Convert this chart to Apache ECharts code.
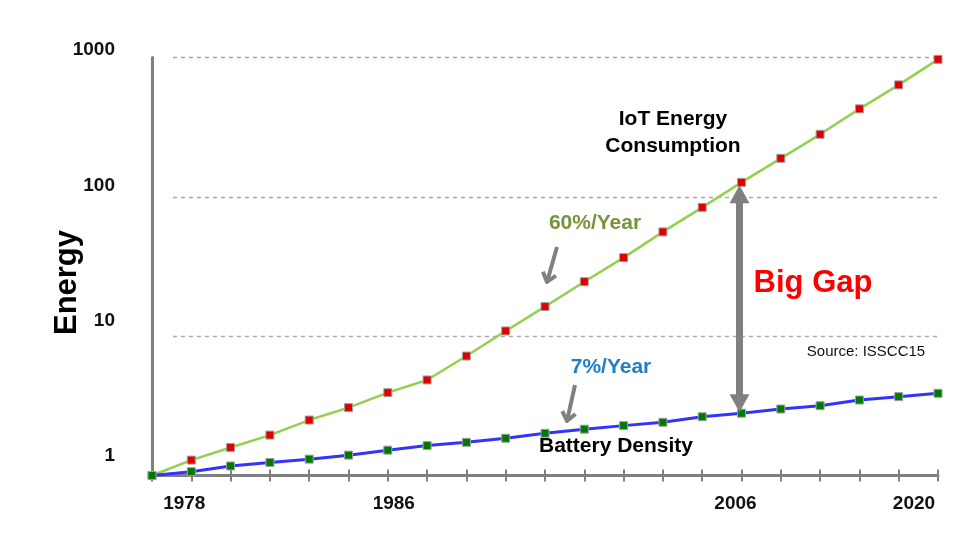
<!DOCTYPE html>
<html>
<head>
<meta charset="utf-8">
<title>IoT Energy vs Battery Density</title>
<script src="https://cdn.jsdelivr.net/npm/echarts@6/dist/echarts.min.js"></script>
<style>
  html, body { margin: 0; padding: 0; background: #fff; }
  #chart { width: 978px; height: 537px; }
</style>
</head>
<body>
<div id="chart"></div>
<script>
// tick labels on the category axis (only a few points are labelled)
var xTickLabels = ['', '1978', '', '', '', '', '1986', '', '', '', '', '', '', '', '', '2006', '', '', '', '', '2020'];
var yTickValues = [1, 10, 100, 1000];

var iotEnergy = [1.0, 1.29, 1.59, 1.95, 2.5, 3.07, 3.93, 4.85, 7.2, 10.9, 16.3, 24.6, 36.6, 56, 84, 127, 189, 281, 428, 636, 970];
var batteryDensity = [1.0, 1.065, 1.17, 1.24, 1.31, 1.4, 1.52, 1.64, 1.73, 1.85, 2.01, 2.15, 2.28, 2.41, 2.64, 2.8, 3.0, 3.17, 3.48, 3.68, 3.89];

var gapIndex = 15;
var FONT = 'Liberation Sans, Arial, Helvetica, sans-serif';
var GREY = '#808080';

var categories = xTickLabels.map(function (_, i) { return String(i); });

var chart = echarts.init(document.getElementById('chart'));

var option = {
  animation: false,
  backgroundColor: '#fff',
  grid: [
    // main plot
    { left: 152, right: 40, top: 57.5, bottom: 61.5 },
    // dashed gridlines (they start a bit right of the axis)
    { left: 173, right: 41, top: 57.5, bottom: 61.5 },
    // y tick labels (sit a little above the gridlines in the original)
    { left: 152, right: 40, top: 50, bottom: 81 }
  ],
  xAxis: [
    {
      gridIndex: 0,
      type: 'category',
      data: categories,
      boundaryGap: false,
      axisLine: { onZero: false, lineStyle: { color: GREY, width: 3 } },
      axisTick: { show: true, interval: 0, length: 6, lineStyle: { color: GREY, width: 2 } },
      axisLabel: {
        interval: 0,
        margin: 19,
        color: '#111',
        fontFamily: FONT,
        fontWeight: 'bold',
        fontSize: 19,
        formatter: function (v, i) {
          var t = xTickLabels[i];
          return t ? '{y' + t + '|' + t + '}' : '';
        },
        rich: {
          y1978: { padding: [0, 14, 0, 0] },
          y1986: { padding: [0, 0, 0, 12] },
          y2006: { padding: [0, 12, 0, 0] },
          y2020: { padding: [0, 48, 0, 0] }
        }
      },
      splitLine: { show: false }
    },
    {
      // second copy only for the inner half of the tick marks
      gridIndex: 0,
      type: 'category',
      data: categories,
      boundaryGap: false,
      position: 'bottom',
      axisLine: { show: false },
      axisTick: { show: true, inside: true, interval: 0, length: 6, lineStyle: { color: GREY, width: 2 } },
      axisLabel: { show: false },
      splitLine: { show: false }
    },
    { gridIndex: 1, type: 'value', show: false },
    { gridIndex: 2, type: 'value', show: false }
  ],
  yAxis: [
    {
      gridIndex: 0,
      type: 'log',
      logBase: 10,
      min: 1,
      max: 1000,
      name: 'Energy',
      nameLocation: 'middle',
      nameGap: 69,
      nameTextStyle: {
        fontFamily: FONT,
        fontWeight: 'bold',
        fontSize: 31,
        color: '#000',
        padding: [0, 32, 0, 0]
      },
      axisLine: { show: true, lineStyle: { color: GREY, width: 3 } },
      axisTick: { show: false },
      axisLabel: { show: false },
      splitLine: { show: false }
    },
    {
      gridIndex: 1,
      type: 'log',
      logBase: 10,
      min: 1,
      max: 1000,
      axisLine: { show: false },
      axisTick: { show: false },
      axisLabel: { show: false },
      splitLine: { show: true, lineStyle: { color: '#a8a8a8', width: 1.3, type: [4, 4] } }
    },
    {
      gridIndex: 2,
      type: 'log',
      logBase: 10,
      min: yTickValues[0],
      max: yTickValues[yTickValues.length - 1],
      axisLine: { show: false },
      axisTick: { show: false },
      splitLine: { show: false },
      axisLabel: {
        margin: 37,
        color: '#111',
        fontFamily: FONT,
        fontWeight: 'bold',
        fontSize: 19,
        formatter: function (v) { return String(Math.round(v)); }
      }
    }
  ],
  series: [
    {
      name: 'IoT Energy Consumption',
      type: 'line',
      xAxisIndex: 0,
      yAxisIndex: 0,
      data: iotEnergy,
      symbol: 'rect',
      symbolSize: 8,
      showAllSymbol: true,
      lineStyle: { color: '#92d050', width: 2.5 },
      itemStyle: { color: '#e00000', borderColor: '#a0a0a0', borderWidth: 1 },
      z: 3
    },
    {
      name: 'Battery Density',
      type: 'line',
      xAxisIndex: 0,
      yAxisIndex: 0,
      data: batteryDensity,
      symbol: 'rect',
      symbolSize: 8,
      showAllSymbol: true,
      lineStyle: { color: '#3333ff', width: 3 },
      itemStyle: { color: '#007a00', borderColor: '#a0a0a0', borderWidth: 1 },
      z: 4
    }
  ]
};

chart.setOption(option);

function label(text, x, y, size, color, weight, lineHeight) {
  return {
    type: 'text',
    x: x,
    y: y,
    z: 10,
    style: {
      text: text,
      fill: color,
      fontFamily: FONT,
      fontSize: size,
      fontWeight: weight,
      lineHeight: lineHeight || size + 2,
      align: 'center',
      verticalAlign: 'middle',
      textAlign: 'center',
      textVerticalAlign: 'middle'
    }
  };
}

// small pointer arrow with an open head
function pointer(x0, y0, x1, y1) {
  var dx = x0 - x1, dy = y0 - y1;
  var len = Math.sqrt(dx * dx + dy * dy);
  var bx = dx / len, by = dy / len;
  var a = 38 * Math.PI / 180, w = 11;
  var l = [x1 + w * (bx * Math.cos(a) - by * Math.sin(a)), y1 + w * (bx * Math.sin(a) + by * Math.cos(a))];
  var r = [x1 + w * (bx * Math.cos(-a) - by * Math.sin(-a)), y1 + w * (bx * Math.sin(-a) + by * Math.cos(-a))];
  var style = { stroke: GREY, lineWidth: 4, fill: null, lineJoin: 'round' };
  return [
    { type: 'polyline', z: 10, shape: { points: [[x0, y0], [x1, y1]] }, style: style },
    { type: 'polyline', z: 10, shape: { points: [l, [x1, y1], r] }, style: style }
  ];
}

// double arrow between the two series at the gap year
var topPt = chart.convertToPixel({ seriesIndex: 0 }, [gapIndex, iotEnergy[gapIndex]]);
var botPt = chart.convertToPixel({ seriesIndex: 1 }, [gapIndex, batteryDensity[gapIndex]]);
var ax = topPt[0] - 2;
var yTop = topPt[1] + 3;
var yBot = botPt[1] - 1;
var headH = 18, headW = 10;

var elements = [
  label('IoT Energy\nConsumption', 673, 133, 21, '#000', 'bold', 27),
  label('60%/Year', 595, 223, 21, '#77933c', 'bold'),
  label('7%/Year', 611, 367, 21, '#1f7ec4', 'bold'),
  label('Battery Density', 616, 446, 21, '#000', 'bold'),
  label('Big Gap', 813, 283, 31, '#ff0000', 'bold'),
  label('Source: ISSCC15', 866, 352, 15, '#111', 'normal'),
  {
    type: 'rect', z: 9,
    shape: { x: ax - 3.5, y: yTop + headH - 2, width: 7, height: (yBot - headH + 2) - (yTop + headH - 2) },
    style: { fill: GREY }
  },
  {
    type: 'polygon', z: 9,
    shape: { points: [[ax, yTop], [ax - headW, yTop + headH], [ax + headW, yTop + headH]] },
    style: { fill: GREY }
  },
  {
    type: 'polygon', z: 9,
    shape: { points: [[ax, yBot], [ax - headW, yBot - headH], [ax + headW, yBot - headH]] },
    style: { fill: GREY }
  }
].concat(pointer(557, 247, 547, 282)).concat(pointer(575, 385, 567, 421));

chart.setOption({ graphic: { elements: elements } });
</script>
</body>
</html>
